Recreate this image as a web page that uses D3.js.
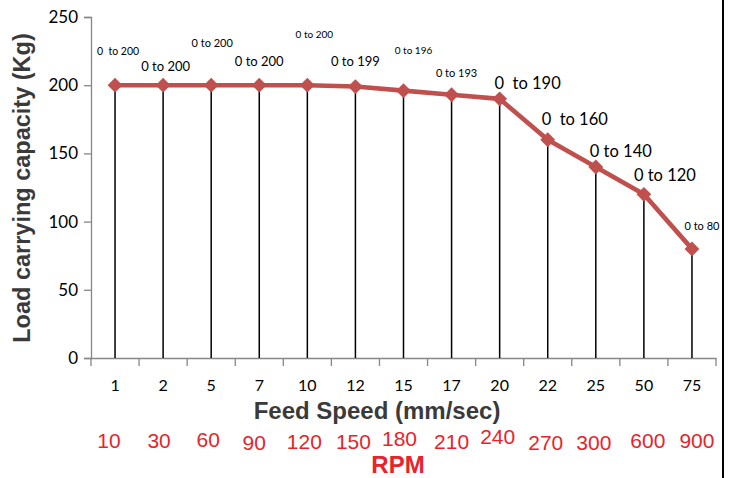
<!DOCTYPE html>
<html>
<head>
<meta charset="utf-8">
<script src="https://cdn.jsdelivr.net/npm/d3@7"></script>
<style>
  body { margin: 0; background: #fff; }
</style>
</head>
<body>
<div id="chart"></div>
<script>
// feed speed categories (mm/sec) and matching spindle speeds
var speeds = ["1", "2", "5", "7", "10", "12", "15", "17", "20", "22", "25", "50", "75"];
var rpms = ["10", "30", "60", "90", "120", "150", "180", "210", "240", "270", "300", "600", "900"];
// max load carrying capacity (Kg)
var loads = [200, 200, 200, 200, 200, 199, 196, 193, 190, 160, 140, 120, 80];
var loadLabels = ["0  to 200", "0 to 200", "0 to 200", "0 to 200", "0 to 200", "0 to 199", "0 to 196",
                  "0 to 193", "0  to 190", "0  to 160", "0 to 140", "0 to 120", "0 to 80"];
var yTicks = [0, 50, 100, 150, 200, 250];

// label placement, as in the original figure (dx, dy from the point, font size)
var labelPos = [
  [3, -30, 10.5], [2.5, -14, 13], [1, -38, 11], [0, -19, 13], [7, -47, 10], [0, -21, 13],
  [10, -37, 10], [5, -18, 11], [28, -10, 16.5], [27, -15, 16.5], [25, -10, 16.5], [21, -13, 16.5], [10, -19, 11]
];
var rpmDx = [-6, -4, -3, -5, -3, -2, -4, 0, -2, -2, -2, 4, 5];
var rpmDy = [0, 0, -1, 2, 1, 1, -2, 1, -4, 2, 2, 0, 0];

var W = 734, H = 478;
var mLeft = 91, mRight = 716, mTop = 17, mBottom = 358;

var svg = d3.select("#chart")
  .append("svg")
    .attr("width", W)
    .attr("height", H);

var x = d3.scaleBand()
  .domain(speeds)
  .range([mLeft, mRight]);

var y = d3.scaleLinear()
  .domain([0, 250])
  .range([mBottom, mTop]);

var grey = "#868686";

// y axis
var yAxis = svg.append("g")
  .attr("transform", "translate(" + mLeft + ",0)")
  .call(d3.axisLeft(y).tickValues(yTicks).tickSize(7).tickPadding(6));
yAxis.select(".domain").attr("stroke", grey).attr("stroke-width", 1.3);
yAxis.selectAll("line").attr("stroke", grey).attr("stroke-width", 1.3);
yAxis.selectAll("text")
  .style("font-family", "Lato, sans-serif")
  .style("font-size", "17px")
  .attr("fill", "#000");

// x axis, ticks on the category boundaries
var xAxis = svg.append("g")
  .attr("transform", "translate(0," + mBottom + ")")
  .call(d3.axisBottom(x).tickSize(0).tickPadding(22));
xAxis.select(".domain").attr("stroke", grey).attr("stroke-width", 1.3);
xAxis.selectAll("text")
  .style("font-family", "Lato, sans-serif")
  .style("font-size", "16px")
  .attr("fill", "#000");

var bounds = speeds.map(function(s){ return x(s); }).concat([mRight]);
svg.append("g")
  .selectAll("line")
  .data(bounds)
  .enter()
  .append("line")
    .attr("x1", function(d){ return d; })
    .attr("x2", function(d){ return d; })
    .attr("y1", mBottom)
    .attr("y2", mBottom + 8)
    .attr("stroke", grey)
    .attr("stroke-width", 1.3);

var cx = function(d, i){ return x(speeds[i]) + x.bandwidth() / 2; };

// drop lines
svg.append("g")
  .selectAll("line")
  .data(loads)
  .enter()
  .append("line")
    .attr("x1", cx)
    .attr("x2", cx)
    .attr("y1", function(d){ return y(d); })
    .attr("y2", y(0))
    .attr("stroke", "#000")
    .attr("stroke-width", 1.5);

// the load line
var line = d3.line()
  .x(cx)
  .y(function(d){ return y(d); });

svg.append("path")
  .datum(loads)
  .attr("d", line)
  .attr("fill", "none")
  .attr("stroke", "#c0504d")
  .attr("stroke-width", 4.6)
  .attr("stroke-linejoin", "round");

svg.append("g")
  .selectAll("path")
  .data(loads)
  .enter()
  .append("path")
    .attr("d", d3.symbol().type(d3.symbolSquare).size(110))
    .attr("transform", function(d, i){ return "translate(" + cx(d, i) + "," + y(d) + ") rotate(45)"; })
    .attr("fill", "#c0504d");

// value range labels
svg.append("g")
  .selectAll("text")
  .data(loads)
  .enter()
  .append("text")
    .attr("x", function(d, i){ return cx(d, i) + labelPos[i][0]; })
    .attr("y", function(d, i){ return y(d) + labelPos[i][1]; })
    .attr("text-anchor", "middle")
    .style("font-family", "Lato, sans-serif")
    .style("font-size", function(d, i){ return labelPos[i][2] + "px"; })
    .style("white-space", "pre")
    .attr("fill", "#000")
    .text(function(d, i){ return loadLabels[i]; });

// rpm row
svg.append("g")
  .selectAll("text")
  .data(rpms)
  .enter()
  .append("text")
    .attr("x", function(d, i){ return x(speeds[i]) + x.bandwidth() / 2 + rpmDx[i]; })
    .attr("y", function(d, i){ return 448 + rpmDy[i]; })
    .attr("text-anchor", "middle")
    .style("font-family", "Liberation Sans, Arial, sans-serif")
    .style("font-size", "21px")
    .attr("fill", "#e8232b")
    .text(function(d){ return d; });

// titles
svg.append("text")
  .attr("x", 377)
  .attr("y", 419)
  .attr("text-anchor", "middle")
  .style("font-family", "Liberation Sans, Arial, sans-serif")
  .style("font-weight", "bold")
  .style("font-size", "24px")
  .attr("fill", "#3a3a3a")
  .text("Feed Speed (mm/sec)");

svg.append("text")
  .attr("x", 398)
  .attr("y", 473)
  .attr("text-anchor", "middle")
  .style("font-family", "Liberation Sans, Arial, sans-serif")
  .style("font-weight", "bold")
  .style("font-size", "24px")
  .attr("fill", "#e8232b")
  .text("RPM");

svg.append("text")
  .attr("transform", "translate(30,188) rotate(-90)")
  .attr("text-anchor", "middle")
  .style("font-family", "Liberation Sans, Arial, sans-serif")
  .style("font-weight", "bold")
  .style("font-size", "23.5px")
  .attr("fill", "#3a3a3a")
  .text("Load carrying capacity (Kg)");

// frame line on the right
svg.append("line")
  .attr("x1", 723).attr("x2", 723)
  .attr("y1", 0).attr("y2", H)
  .attr("stroke", "#000")
  .attr("stroke-width", 2);
</script>
</body>
</html>
